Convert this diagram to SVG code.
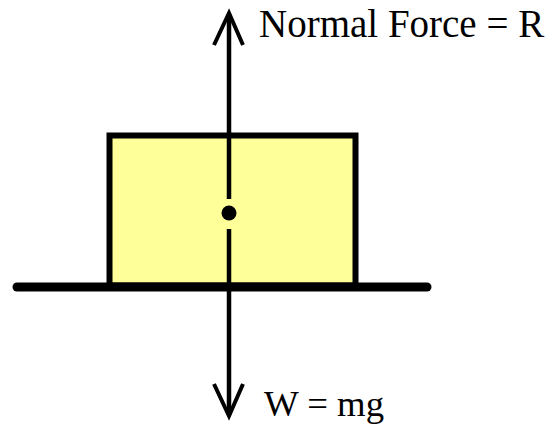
<svg xmlns="http://www.w3.org/2000/svg" width="551" height="425" viewBox="0 0 551 425">
<style>
.lbl{font-family:"Liberation Serif","Times New Roman",serif;fill:#000}
.ln{stroke:#000;fill:none}
</style>
<rect width="551" height="425" fill="#fff"/>
<g id="block">
<rect x="109.5" y="135.5" width="246" height="150" fill="#ffff99" stroke="#000" stroke-width="6"/>
</g>
<g id="ground">
<line x1="17" y1="287" x2="427" y2="287" class="ln" stroke-width="9" stroke-linecap="round"/>
</g>
<g id="centre">
<circle cx="229" cy="213" r="7.5" fill="#000"/>
</g>
<g id="connectors">
<line x1="229" y1="14" x2="229" y2="199" class="ln" stroke-width="4.5"/>
<polyline points="214,45 229,13 243,45" class="ln" stroke-width="4" stroke-linejoin="miter"/>
<line x1="229" y1="229" x2="229" y2="415" class="ln" stroke-width="4.5"/>
<polyline points="214,384 229,416 243,384" class="ln" stroke-width="4"/>
</g>
<g id="labels">
<text x="259" y="37" class="lbl" font-size="39">Normal Force = R</text>
<text transform="translate(264,416) scale(1.05,1)" class="lbl" font-size="35">W = mg</text>
</g>
</svg>
